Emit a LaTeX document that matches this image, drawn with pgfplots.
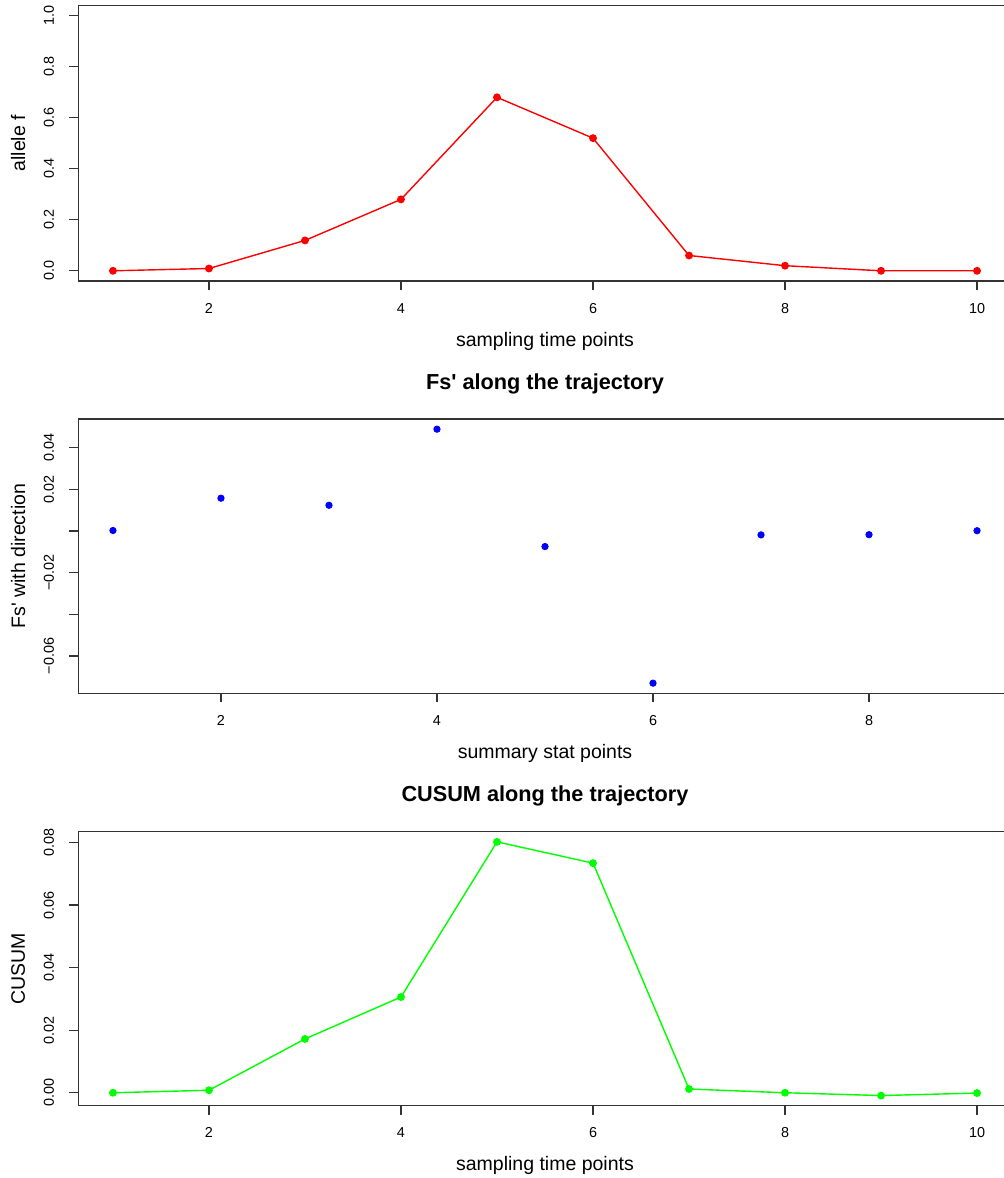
\documentclass[border=0pt]{standalone}
\usepackage{pgfplots}
\pgfplotsset{compat=1.18}
\usepackage{fontspec}
\setmainfont{Liberation Sans}
\definecolor{rred}{RGB}{255,0,0}
\definecolor{rblue}{RGB}{0,0,255}
\definecolor{rgreen}{RGB}{0,255,0}
\pgfplotsset{
  rstyle/.style={
    scale only axis,
    width=466.6pt,
    anchor=north west,
    axis line style={black!80,line width=0.75pt},
    tick style={black!80,line width=0.6pt},
    tick align=outside,
    major tick length=4.5pt,
    xtick pos=bottom,
    ytick pos=left,
    scaled ticks=false,
    tick label style={font=\fontsize{7.2}{8}\selectfont},
    xticklabel style={anchor=base,inner sep=0pt,yshift=-11.5pt},
    yticklabel style={xshift=-7.8pt,rotate=90,anchor=base,inner sep=0pt},
    every axis x label/.style={at={(axis description cs:0.5,0)},anchor=base,yshift=-32.5pt,inner sep=0pt,font=\fontsize{9.75}{11}\selectfont},
    every axis y label/.style={at={(axis description cs:0,0.5)},xshift=-26.7pt,rotate=90,anchor=base,inner sep=0pt,font=\fontsize{9.75}{11}\selectfont},
    every axis title/.style={at={(axis description cs:0.5,1)},anchor=base,yshift=15pt,inner sep=0pt,font=\bfseries\fontsize{10.85}{12}\selectfont},
  },
  rline/.style={line width=0.7pt, mark=*, mark size=1.6pt, mark options={solid}},
}
\begin{document}
\begin{tikzpicture}
\useasboundingbox (0pt,0pt) rectangle (502pt,-589pt);
\clip (0pt,0pt) rectangle (502pt,-589pt);
% top panel
\begin{axis}[rstyle,
  at={(39.2pt,-2.75pt)}, height=137.75pt,
  xmin=0.64, xmax=10.36, ymin=-0.04, ymax=1.04,
  xtick={2,4,6,8,10}, xticklabels={2,4,6,8,10},
  ytick={0,0.2,0.4,0.6,0.8,1.0}, yticklabels={0.0,0.2,0.4,0.6,0.8,1.0},
  xlabel={sampling time points}, ylabel={allele f}]
\addplot[rred, rline] coordinates {
 (1,0) (2,0.009) (3,0.119) (4,0.28) (5,0.68) (6,0.52) (7,0.06) (8,0.02) (9,0) (10,0)};
\end{axis}
% middle panel
\begin{axis}[rstyle,
  at={(39.2pt,-209.5pt)}, height=137.15pt,
  xmin=0.68, xmax=9.32, ymin=-0.07787, ymax=0.05367,
  xtick={2,4,6,8}, xticklabels={2,4,6,8},
  ytick={-0.06,-0.04,-0.02,0,0.02,0.04}, yticklabels={−0.06,,−0.02,,0.02,0.04},
  title={Fs\textquotesingle{} along the trajectory},
  xlabel={summary stat points}, ylabel={Fs\textquotesingle{} with direction}]
\addplot[rblue, only marks, mark=*, mark size=1.6pt] coordinates {
 (1,0.0002) (2,0.0157) (3,0.0123) (4,0.0488) (5,-0.0075) (6,-0.073) (7,-0.0019) (8,-0.0018) (9,0.0001)};
\end{axis}
% bottom panel
\begin{axis}[rstyle,
  at={(39.2pt,-415.85pt)}, height=137pt,
  xmin=0.64, xmax=10.36, ymin=-0.004144, ymax=0.083444,
  xtick={2,4,6,8,10}, xticklabels={2,4,6,8,10},
  ytick={0,0.02,0.04,0.06,0.08}, yticklabels={0.00,0.02,0.04,0.06,0.08},
  title={CUSUM along the trajectory},
  xlabel={sampling time points}, ylabel={CUSUM}]
\addplot[rgreen, rline] coordinates {
 (1,0) (2,0.0008) (3,0.0172) (4,0.0306) (5,0.0802) (6,0.0734) (7,0.0012) (8,0.0000) (9,-0.0009) (10,-0.0001)};
\end{axis}
\end{tikzpicture}
\end{document}
